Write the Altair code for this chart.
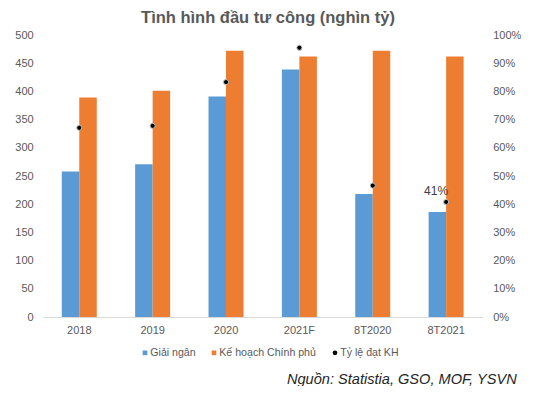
import altair as alt
import pandas as pd

categories = ["2018", "2019", "2020", "2021F", "8T2020", "8T2021"]
disbursed = [258, 271, 391, 439, 218, 186]
plan = [389, 401, 472, 462, 472, 462]
rate = [0.671, 0.678, 0.833, 0.955, 0.466, 0.408]
rate_labels = ["", "", "", "", "", "41%"]
series = ["Giải ngân", "Kế hoạch Chính phủ", "Tỷ lệ đạt KH"]
colors = ["#5B9BD5", "#ED7D31", "#000000"]
y_ticks = list(range(0, 501, 50))
pct_ticks = [i / 10 for i in range(11)]
title_text = "Tình hình đầu tư công (nghìn tỷ)"
source_note = "Nguồn: Statistia, GSO, MOF, YSVN"

FONT = "Liberation Sans"
GREY = "#595959"

bars_df = pd.DataFrame({
    "cat": categories * 2,
    "series": [series[0]] * len(categories) + [series[1]] * len(categories),
    "value": disbursed + plan,
})
rate_df = pd.DataFrame({
    "cat": categories,
    "series": [series[2]] * len(categories),
    "rate": rate,
    "label": rate_labels,
})
note_df = pd.DataFrame({"note": [source_note]})

color_scale = alt.Scale(domain=series, range=colors)
shape_scale = alt.Scale(domain=series, range=["square", "square", "circle"])

legend = alt.Legend(title=None, orient="none", legendX=97, legendY=312.5, direction="horizontal",
                    labelFontSize=10.6, labelFont=FONT, labelColor=GREY, columnPadding=13,
                    labelOffset=0, symbolSize=22, symbolStrokeWidth=0)

x_enc = alt.X(
    "cat:N", sort=categories,
    scale=alt.Scale(paddingInner=0.523, paddingOuter=0.26),
    axis=alt.Axis(title=None, labelAngle=0, ticks=False, domainColor="#D9D9D9",
                  labelColor=GREY, labelFontSize=11, labelFont=FONT, labelPadding=7),
)

bars = alt.Chart(bars_df).mark_bar().encode(
    x=x_enc,
    xOffset=alt.XOffset("series:N", sort=series[:2],
                        scale=alt.Scale(domain=series[:2], paddingInner=0, paddingOuter=0)),
    y=alt.Y("value:Q", scale=alt.Scale(domain=[0, 500]),
            axis=alt.Axis(title=None, values=y_ticks, grid=False, ticks=False, domain=False,
                          labelColor=GREY, labelFontSize=11, labelFont=FONT, labelPadding=9.5)),
    color=alt.Color("series:N", scale=color_scale, legend=legend),
)

rate_y = alt.Y("rate:Q", scale=alt.Scale(domain=[0, 1]),
               axis=alt.Axis(title=None, orient="right", format="%", values=pct_ticks, grid=False,
                             ticks=False, domain=False, labelColor=GREY, labelFontSize=11,
                             labelFont=FONT, labelPadding=10))

points = alt.Chart(rate_df).mark_point(filled=True, opacity=1, size=26, stroke="#BFBFBF",
                                       strokeWidth=1).encode(
    x=alt.X("cat:N", sort=categories),
    y=rate_y,
    color=alt.Color("series:N", scale=color_scale, legend=legend),
    shape=alt.Shape("series:N", scale=shape_scale, legend=legend),
)

labels = alt.Chart(rate_df).mark_text(align="right", baseline="middle", dx=2, dy=-11,
                                      fontSize=12, font=FONT, color="#404040").encode(
    x=alt.X("cat:N", sort=categories),
    y=alt.Y("rate:Q", scale=alt.Scale(domain=[0, 1]), axis=None),
    text="label:N",
).transform_filter(alt.datum.label != "")

note = alt.Chart(note_df).mark_text(align="right", baseline="middle", fontSize=14.6, font=FONT,
                                    fontStyle="italic", color="#262626").encode(
    x=alt.value(474), y=alt.value(345), text="note:N")

chart = alt.layer(bars, points, labels, note).resolve_scale(y="independent").properties(
    width=440, height=282,
    autosize=alt.AutoSizeParams(type="none"),
    padding={"left": 34.7, "top": 27, "right": 48.3, "bottom": 69},
    title=alt.TitleParams(title_text, fontSize=16.5, font=FONT, fontWeight="bold", color=GREY,
                          anchor="middle", dx=5.3, offset=3),
).configure_view(stroke=None)

chart.save("out.html", embed_options={"renderer": "svg", "actions": False})
